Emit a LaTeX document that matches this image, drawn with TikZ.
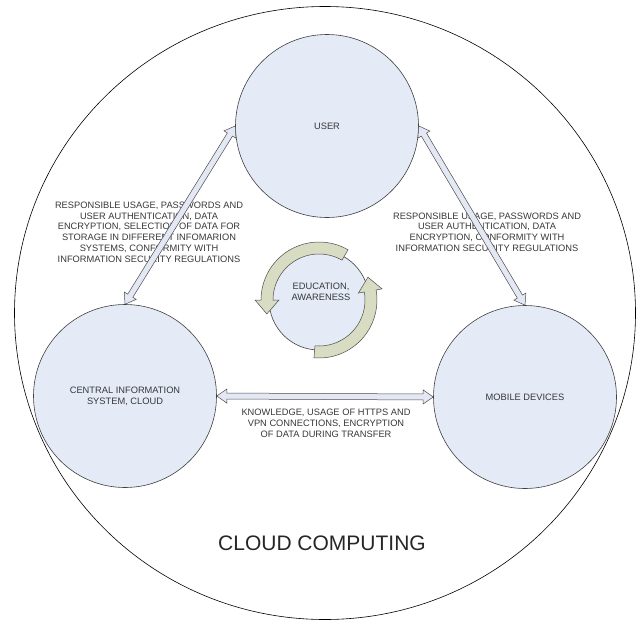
\documentclass[tikz,border=0pt]{standalone}
\usepackage{fontspec}
\setmainfont{Liberation Sans}
\usetikzlibrary{calc}
\definecolor{circlefill}{RGB}{228,234,246}
\definecolor{cyclefill}{RGB}{216,220,194}
\definecolor{arrowfill}{RGB}{228,232,244}
\definecolor{inkgray}{RGB}{55,55,55}
% hollow arrow with a head at both ends
\newcommand{\dblarrow}[2]{%
  \coordinate (ha) at ($(#1)!10pt!(#2)$);
  \coordinate (hb) at ($(#2)!10pt!(#1)$);
  \filldraw[hollow] (#1) -- ($(ha)!7pt!90:(#2)$) -- ($(ha)!3pt!90:(#2)$)
    -- ($(hb)!3pt!-90:(#1)$) -- ($(hb)!7pt!-90:(#1)$) -- (#2)
    -- ($(hb)!7pt!90:(#1)$) -- ($(hb)!3pt!90:(#1)$)
    -- ($(ha)!3pt!-90:(#2)$) -- ($(ha)!7pt!-90:(#2)$) -- cycle;}

\begin{document}
\begin{tikzpicture}[x=1pt,y=1pt,
  part/.style={circle,draw=black!75,fill=circlefill,line width=0.6pt,minimum size=183pt,
    inner sep=0pt,align=center,text=inkgray,font=\fontsize{9.3}{10.8}\selectfont},
  note/.style={align=center,text=inkgray,font=\fontsize{9.3}{10.8}\selectfont},
  hollow/.style={draw=black!70,fill=arrowfill,line width=0.5pt},
  cyc/.style={draw=black!70,fill=cyclefill,line width=0.5pt}]
\useasboundingbox (0,0) rectangle (639,-624);
\draw[line width=0.6pt] (325,-313) ellipse [x radius=310.5, y radius=306.5];

\node[part] (user) at (327,-126) {USER};
\node[part] (central) at (125,-396) {CENTRAL INFORMATION\\SYSTEM, CLOUD};
\node[part] (mobile) at (525,-397) {MOBILE DEVICES};
\node[part,minimum size=100pt] (edu) at (319,-300) {};
\node[note] (edutext) at (321,-292) {EDUCATION,\\AWARENESS};

% turning arrows round the middle
\filldraw[cyc] ($(edu)+(60:58)$) arc[start angle=60, end angle=180, radius=58]
  -- ($(edu)+(180:64)$) -- ($(edu)+(195:54)$) -- ($(edu)+(180:40)$)
  -- ($(edu)+(180:46)$) arc[start angle=180, end angle=60, radius=46] -- cycle;
\filldraw[cyc] ($(edu)+(265:58)$) arc[start angle=265, end angle=370, radius=58]
  -- ($(edu)+(10:64)$) -- ($(edu)+(25:54)$) -- ($(edu)+(10:40)$)
  -- ($(edu)+(10:46)$) arc[start angle=370, end angle=265, radius=46] -- cycle;

\node[note] (leftnote) at (149,-232) {RESPONSIBLE USAGE, PASSWORDS AND\\USER AUTHENTICATION, DATA\\ENCRYPTION, SELECTION OF DATA FOR\\STORAGE IN DIFFERENT INFOMARION\\SYSTEMS, CONFORMITY WITH\\INFORMATION SECURITY REGULATIONS};
\node[note] (rightnote) at (487,-232) {RESPONSIBLE USAGE, PASSWORDS AND\\USER AUTHENTICATION, DATA\\ENCRYPTION, CONFORMITY WITH\\INFORMATION SECURITY REGULATIONS};
\node[note] (bottomnote) at (326,-423) {KNOWLEDGE, USAGE OF HTTPS AND\\VPN CONNECTIONS, ENCRYPTION\\OF DATA DURING TRANSFER};
\node[text=black!85,font=\fontsize{21}{25}\selectfont] (title) at (322,-543) {CLOUD COMPUTING};

\dblarrow{user.west}{central.north}
\dblarrow{user.east}{mobile.north}
\dblarrow{central.east}{mobile.west}
\end{tikzpicture}
\end{document}
